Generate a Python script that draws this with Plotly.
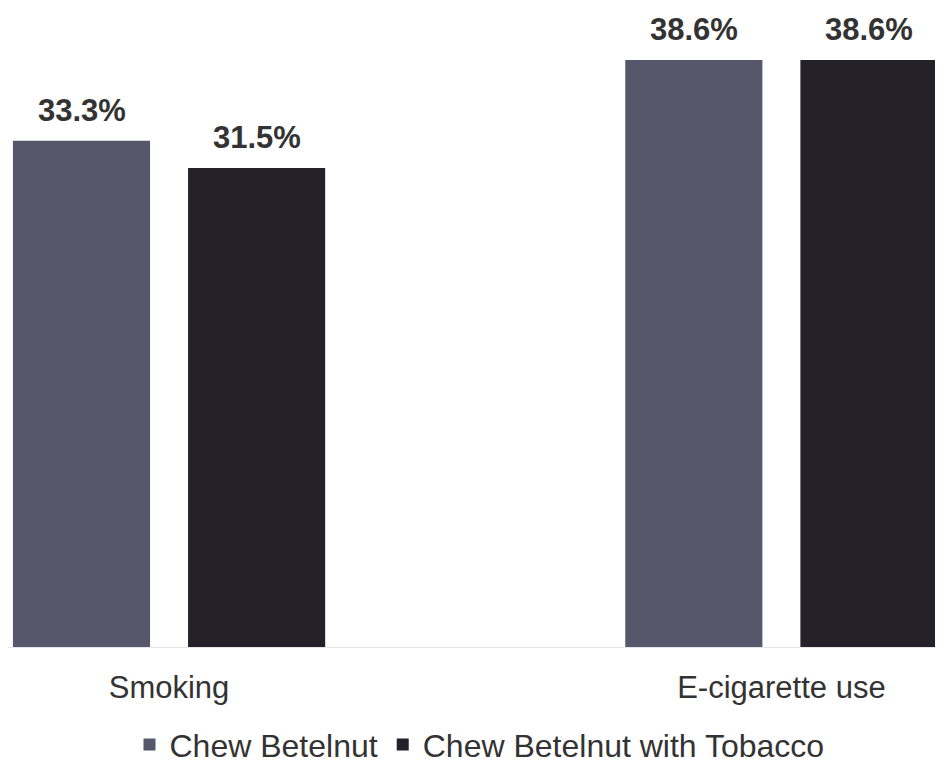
import plotly.graph_objects as go

categories = ["Smoking", "E-cigarette use"]
series_names = ["Chew Betelnut", "Chew Betelnut with Tobacco"]
betelnut = [33.3, 38.6]
betelnut_tobacco = [31.5, 38.6]
colors = ["#57566a", "#24212b"]

FONT = "Liberation Sans, Arial, sans-serif"

fig = go.Figure()
all_series = [betelnut, betelnut_tobacco]
for name, vals, col in zip(series_names, all_series, colors):
    fig.add_trace(go.Bar(
        x=categories, y=vals, name=name,
        marker=dict(color=col, line=dict(width=0)),
        cliponaxis=False,
    ))

# value labels placed above each bar
offsets = [-87.5, 87.5]
for vals, dx in zip(all_series, offsets):
    for cat, v in zip(categories, vals):
        fig.add_annotation(
            x=cat, y=v, text=f"<b>{v:.1f}%</b>", showarrow=False,
            xshift=dx, yshift=11, yanchor="bottom",
            font=dict(family=FONT, size=31, color="#333333"),
        )

fig.update_layout(
    width=943, height=769,
    margin=dict(l=0, r=0, t=13, b=130),
    paper_bgcolor="white", plot_bgcolor="white",
    barmode="group", bargap=0.428, bargroupgap=0.217,
    font=dict(family=FONT, size=31, color="#333333"),
    xaxis=dict(range=[-0.263, 1.277], showgrid=False, showline=True,
               linecolor="#e6e6e6", linewidth=1, ticks="", ticklabelstandoff=13,
               tickfont=dict(size=31)),
    yaxis=dict(range=[0, 41.17], showgrid=False, showticklabels=False,
               zeroline=False, showline=False),
    legend=dict(orientation="h", x=0.5, xanchor="center", y=-0.112, yanchor="top",
                font=dict(size=32), itemwidth=30, traceorder="normal"),
    showlegend=True,
)

fig.write_html("out.html")
